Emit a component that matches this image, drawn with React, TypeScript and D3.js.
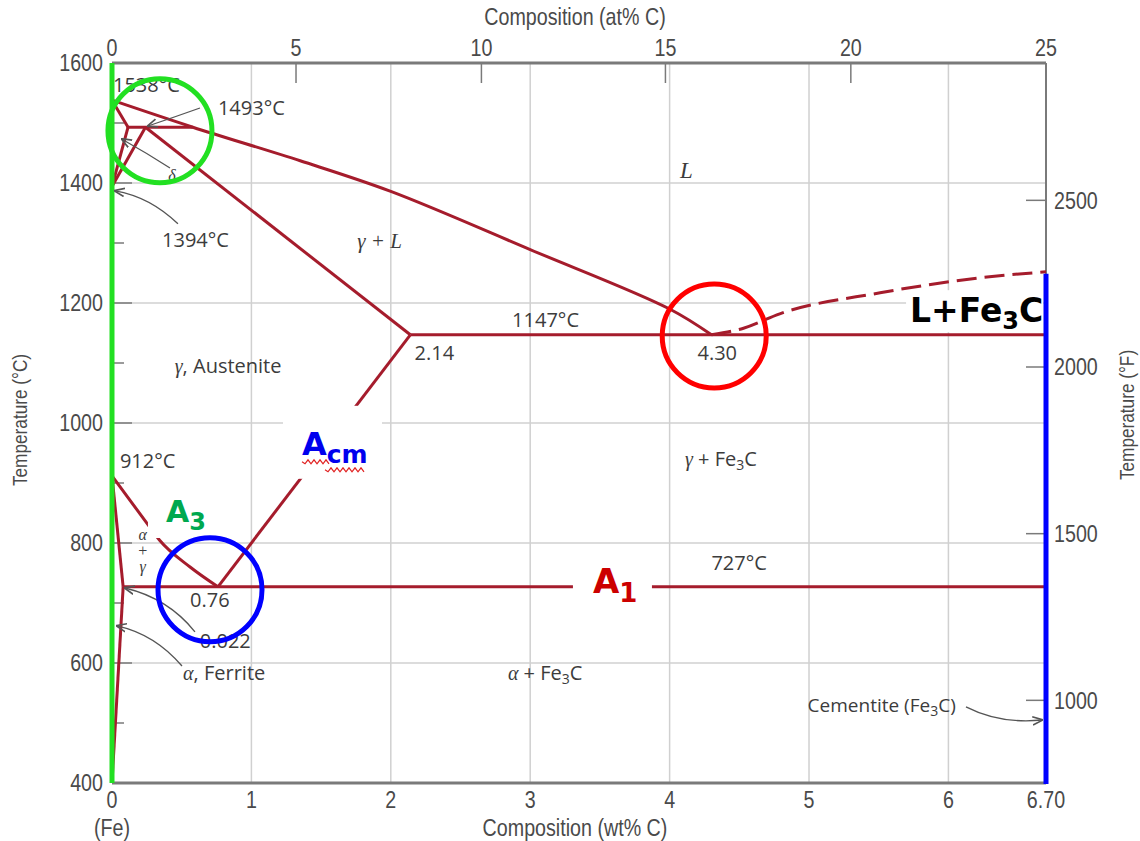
import React from 'react'
import * as d3 from 'd3'

// axes
const wtTicks = [0, 1, 2, 3, 4, 5, 6, 6.7]
const wtTickLabels = ['0', '1', '2', '3', '4', '5', '6', '6.70']
const atTickLabels = ['0', '5', '10', '15', '20', '25']
const atTickWt = [0, 1.32, 2.65, 3.97, 5.3, 6.7] // where the at% ticks sit on the wt% scale
const tempTicks = [400, 600, 800, 1000, 1200, 1400, 1600]
const tempMinor = [500, 700, 900, 1100, 1300, 1500]
const fahrTicks = [1000, 1500, 2000, 2500]

// phase boundaries, [wt% C, °C]
const liquidus = [[0, 1538], [0.58, 1493], [1.35, 1437], [2.0, 1386], [3.0, 1289], [4.0, 1190], [4.3, 1147]]
const deltaSolidus = [[0, 1538], [0.115, 1493]]
const deltaSolvus = [[0.115, 1493], [0, 1394]]
const peritectic = [[0.115, 1493], [0.58, 1493]]
const gammaDelta = [[0.24, 1493], [0, 1394]]
const gammaSolidus = [[0.24, 1493], [2.14, 1147]]
const eutectic = [[2.14, 1147], [6.7, 1147]]
const acmLine = [[0.76, 727], [2.14, 1147]]
const a3Line = [[0, 912], [0.25, 833], [0.34, 805], [0.56, 760], [0.76, 727]]
const alphaUpper = [[0, 912], [0.08, 727]]
const alphaLower = [[0.08, 727], [0, 400]]
const eutectoid = [[0.08, 727], [6.7, 727]]
const cementiteLiq = [[4.3, 1147], [4.53, 1158], [4.79, 1182], [5.51, 1217], [6.23, 1242], [6.7, 1252]]

// annotation arrows: from, control, to
const arrows = [
  [[0.631, 1525], [0.45, 1510], [0.258, 1495]],
  [[0.416, 1425], [0.25, 1450], [0.072, 1473]],
  [[0.473, 1332], [0.273, 1377], [0.022, 1387]],
  [[0.595, 652], [0.402, 708], [0.093, 725]],
  [[0.502, 595], [0.308, 648], [0.036, 662]],
  [[6.126, 527], [6.37, 498], [6.671, 505]],
]

const circles = [
  {wt: 0.344, t: 1487, color: '#22e022'},
  {wt: 4.32, t: 1145, color: '#ff0000'},
  {wt: 0.703, t: 722, color: '#0000ff'},
]

const x = d3.scaleLinear().domain([0, 6.7]).range([112, 1046])
const y = d3.scaleLinear().domain([400, 1600]).range([783, 63])
const xAt = d3.scaleLinear().domain([0, 5, 10, 15, 20, 25]).range(atTickWt.map(w => x(w)))
const yF = (f: number) => y((f - 32) * 5 / 9)

const line = d3.line<number[]>().x(d => x(d[0])).y(d => y(d[1]))
const curve = d3.line<number[]>().x(d => x(d[0])).y(d => y(d[1])).curve(d3.curveMonotoneX)
const smooth = d3.line<number[]>().x(d => x(d[0])).y(d => y(d[1])).curve(d3.curveCatmullRom.alpha(0.5))

const RED = '#a51c2c'
const GRID = '#d0d0d0'
const AX = '#7a7a7a'
const TXT = '#3c3c3c'
const SANS = "'Open Sans', sans-serif"
const NARROW = "'Liberation Sans', Arial, sans-serif"
const SERIF = "'Liberation Serif', serif"
const BOLD = "'DejaVu Sans', sans-serif"

const Narrow = ({px, py, anchor = 'middle', rotate = 0, size = 24, children}: any) => (
  <g transform={`translate(${px},${py}) rotate(${rotate}) scale(0.82,1)`}>
    <text textAnchor={anchor} dominantBaseline="central" fontSize={size} fontFamily={NARROW} fill="#4a4a4a">{children}</text>
  </g>
)

const Label = ({wt, t, anchor = 'start', size = 20, children}: any) => (
  <text x={x(wt)} y={y(t)} textAnchor={anchor} fontSize={size} fontFamily={SANS} fill={TXT}>{children}</text>
)

const G = ({children}: any) => <tspan fontFamily={SERIF} fontStyle="italic">{children}</tspan>

const wave = (x0: number, x1: number, yy: number) => {
  let p = `M${x0},${yy}`
  for (let xx = x0, i = 0; xx < x1; xx += 3, i++) p += ` L${xx + 3},${yy + (i % 2 ? -2 : 2)}`
  return p
}

const BigLabel = ({wt, t, box, children}: any) => {
  const px = x(wt), py = y(t)
  return (
    <g>
      <rect x={px + box[0]} y={py + box[2]} width={box[1] - box[0]} height={box[3] - box[2]} fill="#fff" />
      <text x={px} y={py} fontFamily={BOLD} fontWeight="bold">{children}</text>
    </g>
  )
}

const App = () => {
  const [x0, x1] = x.range()
  const [yB, yT] = y.range()
  const phase = [deltaSolidus, deltaSolvus, peritectic, gammaDelta, gammaSolidus, eutectic, acmLine, alphaUpper, alphaLower, eutectoid]
  const acmX = x(1.363), acmY = y(947)
  return (
    <svg width={1140} height={841} style={{position: 'absolute', left: 0, top: 0, background: '#fff'}}>
      <defs>
        <marker id="arr" viewBox="0 0 10 10" refX="9" refY="5" markerWidth="8" markerHeight="8" orient="auto-start-reverse">
          <path d="M0,1 L10,5 L0,9" fill="none" stroke="#555" strokeWidth="1.6" />
        </marker>
      </defs>

      {/* grid */}
      {wtTicks.slice(1, -1).map(w => (
        <line key={'gx' + w} x1={x(w)} x2={x(w)} y1={yT} y2={yB} stroke={GRID} strokeWidth={1.5} />
      ))}
      {tempTicks.slice(1, -1).map(t => (
        <line key={'gy' + t} x1={x0} x2={x1} y1={y(t)} y2={y(t)} stroke={GRID} strokeWidth={1.5} />
      ))}

      {/* frame */}
      <line x1={x0} x2={x1} y1={yT} y2={yT} stroke={AX} strokeWidth={3} />
      <line x1={x0} x2={x1} y1={yB} y2={yB} stroke={AX} strokeWidth={3} />
      <line x1={x1} x2={x1} y1={yT} y2={yB} stroke={AX} strokeWidth={2} />

      {/* inner ticks */}
      {tempTicks.slice(1, -1).map(t => (
        <line key={'tm' + t} x1={x0} x2={x0 + 20} y1={y(t)} y2={y(t)} stroke={AX} strokeWidth={1.5} />
      ))}
      {tempMinor.map(t => (
        <line key={'tn' + t} x1={x0} x2={x0 + 12} y1={y(t)} y2={y(t)} stroke={AX} strokeWidth={1.5} />
      ))}
      {atTickLabels.slice(1, -1).map(a => (
        <line key={'ta' + a} x1={xAt(+a)} x2={xAt(+a)} y1={yT} y2={yT + 20} stroke={AX} strokeWidth={1.5} />
      ))}
      {fahrTicks.map(f => (
        <line key={'tf' + f} x1={x1 - 20} x2={x1} y1={yF(f)} y2={yF(f)} stroke={AX} strokeWidth={1.5} />
      ))}

      {/* phase lines */}
      {phase.map((d, i) => (
        <path key={'p' + i} d={line(d as any) || ''} fill="none" stroke={RED} strokeWidth={3} />
      ))}
      <path d={smooth(liquidus as any) || ''} fill="none" stroke={RED} strokeWidth={3} />
      <path d={curve(a3Line as any) || ''} fill="none" stroke={RED} strokeWidth={3} />
      <path d={curve(cementiteLiq as any) || ''} fill="none" stroke={RED} strokeWidth={3} strokeDasharray="20 8" />

      {/* big labels with white backing */}
      <BigLabel wt={0.387} t={835} box={[-18, 46, -32, 16]}>
        <tspan fill="#00a84f" fontSize={30}>A</tspan>
        <tspan fill="#00a84f" fontSize={24} dy={8}>3</tspan>
      </BigLabel>
      <BigLabel wt={1.363} t={947} box={[-19, 80, -49, 24]}>
        <tspan fill="#0000ee" fontSize={32}>A</tspan>
        <tspan fill="#0000ee" fontSize={25} dy={8}>cm</tspan>
      </BigLabel>
      <path d={wave(acmX, acmX + 25, acmY + 7)} fill="none" stroke="#e02020" strokeWidth={1.2} />
      <path d={wave(acmX + 23, acmX + 62, acmY + 15)} fill="none" stroke="#e02020" strokeWidth={1.2} />
      <BigLabel wt={3.45} t={717} box={[-20, 59, -35, 13]}>
        <tspan fill="#cc0000" fontSize={34}>A</tspan>
        <tspan fill="#cc0000" fontSize={26} dy={9}>1</tspan>
      </BigLabel>
      <BigLabel wt={5.725} t={1168} box={[-4, 133, -32, 10]}>
        <tspan fill="#000" fontSize={33}>L+Fe</tspan>
        <tspan fill="#000" fontSize={24} dy={7}>3</tspan>
        <tspan fill="#000" fontSize={33} dy={-7}>C</tspan>
      </BigLabel>

      {/* Fe and Fe3C edges */}
      <line x1={x0} x2={x0} y1={yT} y2={yB} stroke="#22e022" strokeWidth={5} />
      <line x1={x1} x2={x1} y1={y(1252) + 2} y2={yB + 1} stroke="#0000ff" strokeWidth={5} />

      {/* small labels */}
      <Label wt={0.007} t={1552}>1538°C</Label>
      <Label wt={0.76} t={1513}>1493°C</Label>
      <Label wt={0.359} t={1293}>1394°C</Label>
      <Label wt={0.43} t={1403} anchor="middle" size={16}><G>δ</G></Label>
      <Label wt={4.12} t={1408} anchor="middle" size={23}><G>L</G></Label>
      <Label wt={1.76} t={1292} size={21}><G>γ + L</G></Label>
      <Label wt={2.87} t={1160}>1147°C</Label>
      <Label wt={2.17} t={1105}>2.14</Label>
      <Label wt={4.2} t={1105}>4.30</Label>
      <Label wt={0.45} t={1083}><G>γ</G>, Austenite</Label>
      <Label wt={0.057} t={925}>912°C</Label>
      <Label wt={0.22} t={805} anchor="middle" size={16}><G>α</G></Label>
      <Label wt={0.22} t={778} anchor="middle" size={16}><G>+</G></Label>
      <Label wt={0.22} t={752} anchor="middle" size={16}><G>γ</G></Label>
      <Label wt={4.11} t={928}><G>γ</G> + Fe<tspan fontSize={14} dy={4}>3</tspan><tspan dy={-4}>C</tspan></Label>
      <Label wt={4.3} t={755}>727°C</Label>
      <Label wt={0.56} t={693}>0.76</Label>
      <Label wt={0.63} t={625}>0.022</Label>
      <Label wt={0.51} t={572}><G>α</G>, Ferrite</Label>
      <Label wt={2.84} t={572}><G>α</G> + Fe<tspan fontSize={14} dy={4}>3</tspan><tspan dy={-4}>C</tspan></Label>
      <Label wt={4.99} t={518} size={19}>Cementite (Fe<tspan fontSize={14} dy={4}>3</tspan><tspan dy={-4}>C)</tspan></Label>

      {/* arrows */}
      {arrows.map((a, i) => (
        <path key={'a' + i}
          d={`M${x(a[0][0])},${y(a[0][1])} Q${x(a[1][0])},${y(a[1][1])} ${x(a[2][0])},${y(a[2][1])}`}
          fill="none" stroke="#555" strokeWidth={1.3} markerEnd="url(#arr)" />
      ))}

      {/* highlight circles */}
      {circles.map((c, i) => (
        <circle key={'c' + i} cx={x(c.wt)} cy={y(c.t)} r={52} fill="none" stroke={c.color} strokeWidth={5} />
      ))}

      {/* axis labels */}
      {tempTicks.map(t => <Narrow key={'lt' + t} px={103} py={y(t)} anchor="end">{t}</Narrow>)}
      {wtTicks.map((w, i) => <Narrow key={'lw' + w} px={x(w)} py={800}>{wtTickLabels[i]}</Narrow>)}
      {atTickLabels.map(a => <Narrow key={'la' + a} px={xAt(+a)} py={48}>{a}</Narrow>)}
      {fahrTicks.map(f => <Narrow key={'lf' + f} px={1054} py={yF(f)} anchor="start">{f}</Narrow>)}
      <Narrow px={x(0)} py={828}>(Fe)</Narrow>
      <Narrow px={575} py={828}>Composition (wt% C)</Narrow>
      <Narrow px={575} py={17}>Composition (at% C)</Narrow>
      <Narrow px={20} py={420} rotate={-90} size={21}>Temperature (°C)</Narrow>
      <Narrow px={1127} py={415} rotate={-90} size={21}>Temperature (°F)</Narrow>
    </svg>
  )
}

export default App
